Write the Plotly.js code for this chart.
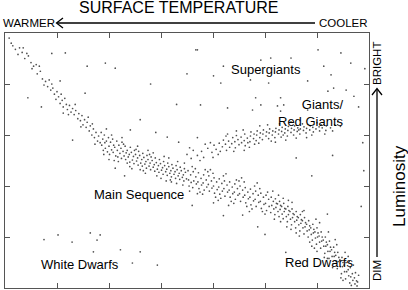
<!DOCTYPE html>
<html><head><meta charset="utf-8">
<script src="https://cdn.plot.ly/plotly-3.0.1.min.js"></script>
<style>html,body{margin:0;padding:0;background:#fff}#c{width:408px;height:290px}</style>
</head><body><div id="c"></div>
<script>
// x: surface temperature position (0 = warm/left, 7 = cool/right); y: luminosity (0 = dim, 5 = bright)
const mainSequence = [
[0.08,4.90],[0.12,4.80],[0.20,4.68],[0.28,4.71],[0.33,4.62],[0.38,4.50],[0.45,4.55],[0.50,4.42],[0.55,4.35],[0.60,4.38],
[0.62,4.20],[0.68,4.25],[0.72,4.10],[0.78,4.05],[0.82,3.95],[0.85,4.08],[0.88,3.88],[0.92,3.92],[0.95,3.80],[0.98,3.70],
[1.00,3.85],[1.03,3.75],[1.06,3.62],[1.10,3.68],[1.12,3.55],[1.15,3.72],[1.18,3.60],[1.20,3.50],[1.24,3.58],[1.27,3.45],
[1.30,3.52],[1.33,3.40],[1.36,3.48],[1.40,3.32],[1.42,3.42],[1.45,3.28],[1.48,3.38],[1.50,3.20],[1.53,3.30],[1.56,3.15],
[1.58,3.25],[1.62,3.08],[1.64,3.18],[1.67,3.00],[1.70,3.12],[1.72,2.95],[1.75,3.05],[1.78,2.88],[1.80,2.98],[1.83,2.85],
[0.15,4.75],[0.25,4.58],[0.42,4.60],[0.52,4.30],[0.66,4.35],[0.75,3.98],[0.90,4.00],[1.08,3.80],[1.22,3.40],[1.35,3.60],
[1.46,3.16],[1.60,3.35],[1.73,2.82],[1.68,3.22],
[1.85,3.05],[1.86,2.80],[1.88,2.92],[1.89,2.70],[1.91,3.00],[1.92,2.85],[1.93,2.74],[1.95,2.88],[1.97,2.67],[1.99,2.95],
[2.00,2.78],[2.01,2.62],[2.03,2.86],[2.05,2.71],[2.07,2.92],[2.08,2.66],[2.09,2.80],[2.11,2.76],[2.13,2.59],[2.15,2.88],
[2.16,2.70],[2.17,2.57],[2.19,2.80],[2.21,2.64],[2.23,2.74],[2.24,2.54],[2.25,2.86],[2.27,2.68],[2.29,2.59],[2.31,2.78],
[2.32,2.52],[2.33,2.65],[2.35,2.70],[2.37,2.57],[2.39,2.62],[2.40,2.47],[2.41,2.76],[2.43,2.66],[2.45,2.51],[2.47,2.58],
[2.48,2.44],[2.49,2.70],[2.51,2.62],[2.53,2.49],[2.55,2.55],[2.56,2.41],[2.57,2.68],[2.59,2.60],[2.61,2.45],[2.63,2.52],
[2.64,2.39],[2.65,2.64],[2.67,2.56],[2.69,2.43],[2.71,2.48],[2.72,2.35],[2.73,2.60],[2.75,2.52],[2.77,2.39],[2.79,2.45],
[2.80,2.32],[2.81,2.57],[2.83,2.50],[2.85,2.37],[2.87,2.42],[2.88,2.29],[2.89,2.55],[2.91,2.46],[2.93,2.33],[2.95,2.40],
[2.96,2.27],[2.97,2.52],[2.99,2.44],[3.01,2.31],[3.03,2.36],[3.04,2.23],[3.05,2.48],[3.07,2.40],[3.09,2.28],[3.11,2.33],
[3.12,2.21],[3.13,2.45],[3.15,2.38],[3.17,2.25],[3.19,2.30],[3.20,2.18],[3.21,2.42],[3.23,2.35],[3.25,2.23],[3.27,2.28],
[3.28,2.15],[3.29,2.40],[3.31,2.32],[3.33,2.20],[3.35,2.25],[3.36,2.13],[3.37,2.37],[3.39,2.30],[3.41,2.17],[3.43,2.22],
[3.44,2.10],[3.45,2.34],[3.47,2.27],[3.49,2.14],
[1.95,3.12],[2.10,2.50],[2.25,2.95],[2.40,2.38],[2.55,2.78],[2.70,2.25],[2.85,2.65],[3.00,2.15],[3.15,2.55],[3.30,2.05],
[3.45,2.45],[2.00,2.52],[2.60,2.32],[3.20,2.08],
[1.90,2.62],[2.05,3.00],[2.18,2.48],[2.28,2.82],[2.44,2.34],[2.52,2.72],[2.66,2.30],[2.78,2.62],[2.92,2.20],[3.06,2.58],
[3.18,2.12],[3.32,2.48],[3.42,2.02],[2.35,2.45],[2.75,2.70],[3.10,2.10],
[3.52,2.30],[3.53,2.12],[3.54,2.00],[3.57,2.22],[3.58,2.07],[3.62,2.28],[3.63,2.10],[3.61,1.97],[3.67,2.18],[3.68,2.04],
[3.72,2.26],[3.71,2.08],[3.73,1.95],[3.77,2.15],[3.78,2.02],[3.82,2.22],[3.81,2.06],[3.83,1.92],[3.87,2.12],[3.88,1.98],
[3.92,2.20],[3.91,2.03],[3.93,1.90],[3.97,2.10],[3.98,1.96],[4.02,2.16],[4.01,2.00],[4.03,1.86],[4.07,2.08],[4.08,1.93],
[4.12,2.14],[4.11,1.98],[4.13,1.84],[4.17,2.05],[4.18,1.90],[4.22,2.10],[4.21,1.95],[4.23,1.80],[4.27,2.02],[4.28,1.88],
[4.32,2.08],[4.31,1.92],[4.33,1.78],[4.37,1.98],[4.38,1.85],[4.42,2.04],[4.41,1.88],[4.43,1.74],[4.47,1.95],[4.48,1.82],
[4.52,2.00],[4.51,1.85],[4.53,1.70],[4.57,1.92],[4.58,1.78],[4.62,1.97],[4.61,1.82],[4.63,1.67],[4.67,1.88],[4.68,1.75],
[4.72,1.94],[4.71,1.78],[4.73,1.63],[4.77,1.85],[4.78,1.71],[4.82,1.90],[4.81,1.74],[4.83,1.60],[4.87,1.82],[4.88,1.68],
[4.92,1.86],[4.91,1.70],[4.93,1.56],[4.97,1.78],[4.98,1.64],[5.02,1.82],[5.01,1.66],[5.03,1.52],[5.07,1.74],[5.08,1.60],
[3.60,2.38],[3.75,1.88],[3.90,2.28],[4.05,1.78],[4.20,2.20],[4.35,1.70],[4.50,2.10],[4.65,1.60],[4.80,2.00],[4.95,1.50],
[3.85,2.32],[4.15,1.76],[4.45,2.12],[4.75,1.55],[5.05,1.88],
[3.55,1.90],[3.66,2.34],[3.80,1.84],[3.95,2.32],[4.10,1.72],[4.25,2.24],[4.40,1.66],[4.55,2.16],[4.70,1.50],[4.85,2.06],
[5.00,1.45],[3.70,1.85],[4.00,2.25],[4.30,1.62],[4.60,2.08],[4.90,1.95],
[5.12,1.78],[5.13,1.62],[5.11,1.48],[5.16,1.70],[5.17,1.55],
[5.20,1.75],[5.21,1.58],[5.19,1.44],[5.22,1.66],[5.24,1.65],[5.25,1.50],
[5.28,1.70],[5.29,1.54],[5.27,1.40],[5.30,1.62],[5.32,1.60],[5.33,1.45],
[5.36,1.66],[5.37,1.50],[5.35,1.36],[5.38,1.56],[5.40,1.55],[5.41,1.40],
[5.44,1.60],[5.45,1.44],[5.43,1.30],[5.46,1.52],[5.48,1.50],[5.49,1.35],
[5.52,1.55],[5.53,1.38],[5.51,1.24],[5.54,1.46],[5.56,1.44],[5.57,1.30],
[5.60,1.50],[5.61,1.33],[5.59,1.18],[5.62,1.40],[5.64,1.38],[5.65,1.24],
[5.68,1.44],[5.69,1.27],[5.67,1.12],[5.70,1.34],[5.72,1.32],[5.73,1.18],
[5.76,1.38],[5.77,1.20],[5.75,1.06],[5.78,1.28],[5.80,1.25],[5.81,1.12],
[5.84,1.32],[5.85,1.14],[5.83,1.00],[5.86,1.22],[5.88,1.18],[5.89,1.05],
[5.92,1.25],[5.93,1.08],[5.91,0.94],[5.94,1.15],[5.96,1.10],[5.97,0.98],
[6.00,1.18],[6.01,1.00],[5.99,0.86],[6.02,1.08],[6.04,1.02],[6.05,0.90],
[6.08,1.10],[6.09,0.92],[6.07,0.78],[6.10,1.00],[6.12,0.94],[6.13,0.82],
[6.16,1.00],[6.17,0.82],[6.15,0.68],[6.18,0.90],[6.20,0.85],[6.21,0.72],
[6.24,0.92],[6.25,0.72],[6.23,0.58],[6.26,0.80],[6.28,0.75],[6.29,0.62],
[6.32,0.80],[6.33,0.62],[6.31,0.48],[6.34,0.70],[6.36,0.64],[6.37,0.52],
[6.40,0.70],[6.41,0.52],[6.39,0.38],[6.42,0.60],[6.44,0.55],[6.45,0.42],
[6.48,0.60],[6.49,0.42],[6.47,0.28],[6.50,0.50],[6.52,0.45],[6.53,0.32],
[6.56,0.50],[6.57,0.32],[6.55,0.18],[6.60,0.36],[6.61,0.24],
[6.64,0.40],[6.65,0.22],[6.63,0.10],[6.68,0.28],[6.69,0.15],[6.72,0.20],[6.73,0.08],[6.76,0.14],[6.77,0.04],
[5.15,1.90],[5.30,1.30],[5.45,1.72],[5.60,1.08],[5.75,1.52],[5.90,0.82],[6.05,1.28],[6.20,0.58],[6.35,0.95],[6.50,0.15],
[6.60,0.62],[6.70,0.45],[6.80,0.25],[5.50,1.15],[6.00,0.72],
[5.18,1.35],[5.26,1.82],[5.42,1.20],[5.52,1.68],[5.66,1.02],[5.72,1.50],[5.86,0.90],[5.98,1.35],[6.14,0.60],[6.22,1.10],
[6.30,0.40],[6.38,0.85],[6.46,0.20],[6.54,0.70],[6.62,0.52],[6.74,0.30],[6.78,0.12],[6.66,0.05],[5.35,1.76],[5.95,0.78]
];
const giants = [
[3.50,2.62],[3.58,2.54],[3.62,2.70],[3.70,2.60],[3.78,2.68],[3.82,2.56],[3.90,2.74],[3.98,2.66],[4.02,2.80],[4.06,2.72],
[4.12,2.84],[4.14,2.68],[4.18,2.77],[4.20,2.90],[4.24,2.82],[4.26,2.70],[4.30,2.88],[4.32,2.76],[4.36,2.83],[4.38,2.95],
[4.42,2.87],[4.43,2.75],[4.45,2.99],[4.48,2.91],[4.50,2.81],[4.54,2.96],[4.55,2.85],[4.60,2.89],[4.61,3.02],[4.62,2.79],
[4.66,2.94],[4.67,2.85],[4.72,2.98],[4.71,2.87],[4.73,3.06],[4.78,2.93],[4.79,3.02],[4.84,3.00],[4.83,2.89],[4.85,3.08],
[4.90,2.95],[4.91,3.04],[4.96,3.02],[4.95,2.91],[4.97,3.10],[5.02,2.98],[5.03,3.06],[5.08,3.04],[5.07,2.93],[5.09,3.12],
[5.14,3.00],[5.15,3.08],[5.20,3.06],[5.19,2.95],[5.21,3.13],[5.26,3.02],[5.27,3.10],[5.32,3.07],[5.31,2.96],[5.33,3.15],
[5.38,3.04],[5.39,3.12],[5.44,3.09],[5.43,2.98],[5.45,3.17],[5.50,3.05],[5.51,3.13],[5.56,3.10],[5.55,3.00],[5.57,3.18],
[5.62,3.07],[5.63,3.14],[5.68,3.12],[5.67,3.02],[5.74,3.09],[5.75,3.16],[5.80,3.13],[5.79,3.04],[5.86,3.10],[5.87,3.18],
[5.92,3.15],[5.93,3.06],[5.98,3.12],[6.04,3.16],[6.05,3.08],[6.10,3.14],[6.18,3.18],[6.17,3.09],[6.26,3.14],[6.34,3.20],
[6.45,3.17],[4.00,2.56],[4.25,2.98],[4.60,2.70],[4.90,3.18],[5.20,2.86],[5.50,3.26],[5.80,2.95],[3.85,2.82],[4.45,3.08],
[3.55,2.75],[3.75,2.50],[3.95,2.85],[4.10,2.62],[4.28,3.02],[4.40,2.68],[4.58,3.10],[4.70,2.76],[4.88,2.84],[5.05,3.20],
[5.12,2.88],[5.28,3.22],[5.40,2.90],[5.60,2.94],[5.72,3.22],[5.90,3.00],[6.00,3.24],[6.15,3.02],[6.30,3.08],[6.40,3.26],
[4.80,2.82],[5.35,3.00],[5.65,3.10],[6.08,3.20]
];
const supergiants = [
[3.70,4.67],[4.20,4.35],[5.11,4.51],[6.02,4.67],[6.46,4.61],[6.65,4.41],[6.13,4.35],[6.27,4.18],[5.82,4.06],[6.32,3.92],
[4.01,4.16],[4.15,4.02],[5.07,4.02],[4.72,4.08],[4.92,4.47],[5.50,4.51],[5.30,3.73],[4.82,3.73],[4.92,3.59],[5.24,3.57],
[5.36,3.59],[4.76,3.49],[4.28,3.53],[3.76,3.59],[6.21,3.86],[6.56,3.88],[6.71,3.76],[5.30,3.47],[5.82,3.49],[3.67,4.67]
];
const whiteDwarfs = [
[1.02,1.04],[1.29,0.90],[1.64,1.08],[1.83,1.04],[1.77,0.94],[1.70,0.71],[2.22,0.75],[2.60,0.71],[2.45,0.49],[2.93,0.45],
[0.75,0.95]
];
const fieldStars = [
[1.16,4.61],[1.58,4.35],[1.93,4.41],[2.12,4.31],[1.06,4.06],[1.54,3.82],[0.44,3.73],[1.12,3.43],[0.35,4.71],[2.41,3.10],
[3.12,2.96],[3.34,2.86],[2.12,2.35],[4.01,1.67],[4.86,1.20],[4.57,1.43],[2.60,3.30],[2.90,3.05],[2.30,2.20],[3.60,1.62],
[4.20,1.42],[5.00,1.05],[6.85,1.60],[6.90,2.30],[6.88,2.85],[6.80,3.55],[6.92,4.30],[3.30,3.60],[2.80,4.00],[3.50,4.20],
[0.70,3.55],[1.30,2.90],[0.90,4.60],[5.60,2.55],[6.30,2.60],[5.90,2.20],[3.70,2.95],[5.40,0.70],[6.20,1.45]
];
const xTicks = [1,2,3,4,5,6];
const yTicks = [1,2,3,4];

const all = [].concat(mainSequence, giants, supergiants, whiteDwarfs, fieldStars);
const trace = {
  type:'scatter', mode:'markers',
  x: all.map(p=>p[0]), y: all.map(p=>p[1]),
  marker:{size:1.7, color:'#505050', line:{width:0}},
  hoverinfo:'skip'
};

// pixel -> paper helpers for decorations
const L=5, R=369, T=33, B=288;
const px = v => (v-L)/(R-L);
const py = v => (B-v)/(B-T);
const F = 'Liberation Sans, Arial, Helvetica, sans-serif';
function ann(text, x, y, size, extra){
  return Object.assign({text, x:px(x), y:py(y), xref:'paper', yref:'paper', showarrow:false,
    xanchor:'center', yanchor:'middle', font:{family:F, size, color:'#000'}}, extra||{});
}
const shapes = [
  {type:'line', xref:'paper', yref:'paper', x0:px(57), x1:px(315), y0:py(23), y1:py(23), line:{color:'#000', width:1.3}},
  {type:'path', xref:'paper', yref:'paper', path:`M ${px(63)} ${py(18)} L ${px(56.5)} ${py(23)} L ${px(63)} ${py(28)}`, line:{color:'#000', width:1.3}},
  {type:'line', xref:'paper', yref:'paper', x0:px(377), x1:px(377), y0:py(89), y1:py(257), line:{color:'#000', width:1.3}},
  {type:'path', xref:'paper', yref:'paper', path:`M ${px(372)} ${py(95)} L ${px(377)} ${py(88.5)} L ${px(382)} ${py(95)}`, line:{color:'#000', width:1.3}}
];
const annotations = [
  ann('SURFACE TEMPERATURE', 178, 7.5, 16),
  ann('WARMER', 1, 23, 11.5, {xanchor:'left'}),
  ann('COOLER', 370, 23, 11.5, {xanchor:'right'}),
  ann('BRIGHT', 377, 64, 11.5, {textangle:-90}),
  ann('DIM', 377, 271, 11.5, {textangle:-90}),
  ann('Luminosity', 399, 186, 17, {textangle:-90}),
  ann('Supergiants', 266, 69, 13),
  ann('Giants/<br>Red Giants', 346, 113, 13, {xanchor:'right', align:'right'}),
  ann('Main Sequence', 139, 194, 13),
  ann('White Dwarfs', 80, 264, 13),
  ann('Red Dwarfs', 319, 262, 13)
];
const axisCommon = {showgrid:false, zeroline:false, showline:true, linecolor:'#555', linewidth:1, mirror:'ticks',
  ticks:'inside', ticklen:5, tickcolor:'#555', tickwidth:1, showticklabels:false, tickmode:'array', fixedrange:true};
const layout = {
  width:408, height:290, margin:{l:L, r:408-R, t:T, b:290-B, pad:0},
  paper_bgcolor:'#fff', plot_bgcolor:'#fff', showlegend:false,
  xaxis:Object.assign({range:[0,7], tickvals:xTicks}, axisCommon),
  yaxis:Object.assign({range:[0,5], tickvals:yTicks}, axisCommon),
  shapes, annotations
};
Plotly.newPlot('c', [trace], layout, {staticPlot:true, displayModeBar:false});
</script></body></html>
